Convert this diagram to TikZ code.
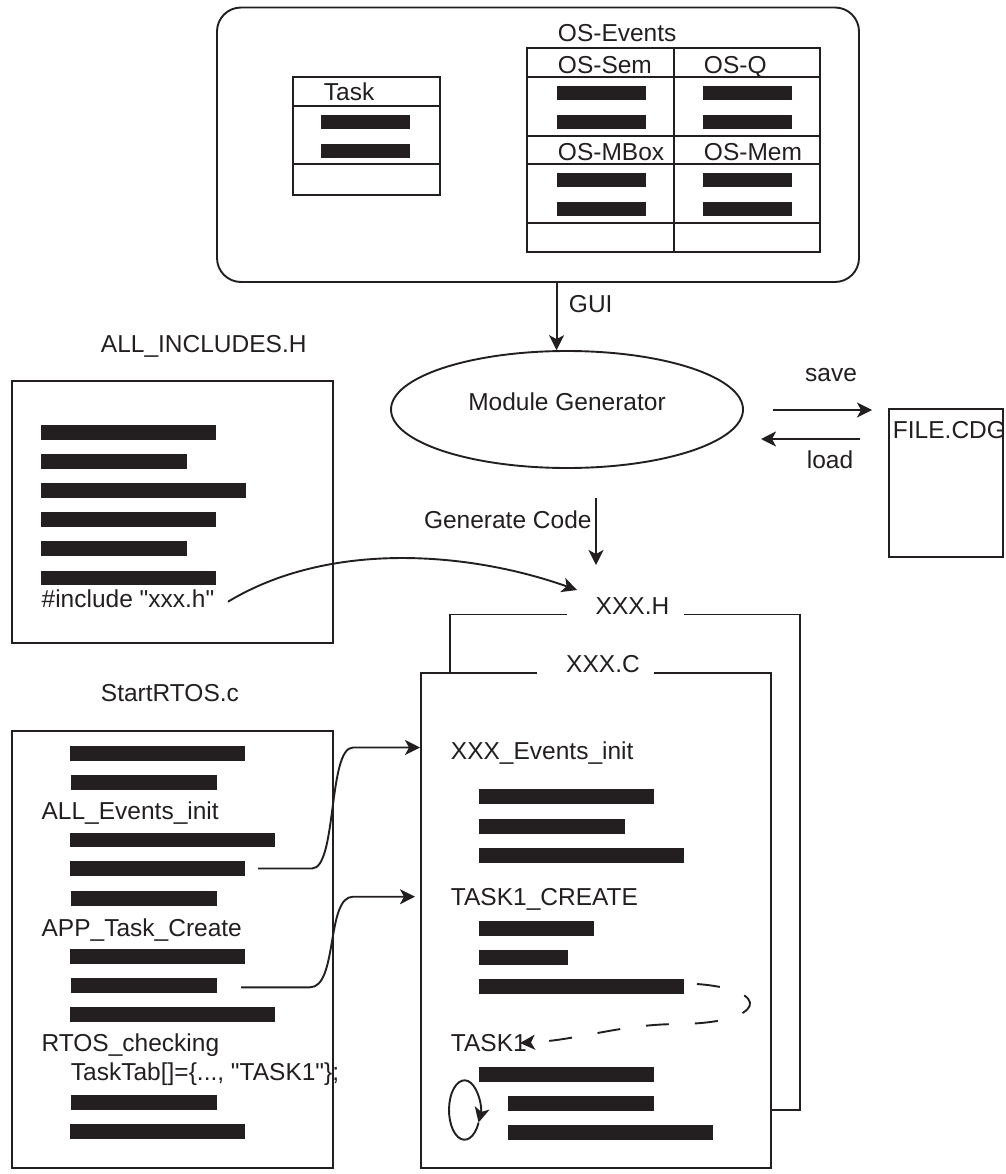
\documentclass[tikz,border=0pt]{standalone}
\usepackage{fontspec}
\setmainfont{Liberation Sans}[Ligatures=TeXOff]
\usetikzlibrary{shapes.geometric,arrows.meta}
\definecolor{ink}{HTML}{231F20}

% filled bar standing in for a line of code: x0, x1, top y
\newcommand\redact[3]{\fill (#1,#3) rectangle (#2,#3+14.5);}

\begin{document}
\begin{tikzpicture}[x=1pt,y=-1pt,line width=1.9pt,color=ink,
  lbl/.style={anchor=base west,inner sep=0pt,font=\fontsize{24.5}{29}\selectfont},
  arr/.style={-{Stealth[length=15pt,width=15pt,inset=4pt]}},
  boxnode/.style={draw,anchor=north west,inner sep=0pt,outer sep=0pt}]
\useasboundingbox (0,0) rectangle (1005,1174);

% ---------- configuration window ----------
\node[boxnode,rounded corners=24pt,minimum width=642pt,minimum height=274.5pt] (top) at (217,7.5) {};

% task table
\draw (293,77) rectangle (440,195);
\draw (293,106) -- (440,106) (293,164) -- (440,164);
\node[lbl] (tasklbl) at (323,101) {Task};
\redact{321}{410}{115}
\redact{321}{410}{144}

% event tables
\node[lbl] (evlbl) at (557,42) {OS-Events};
\draw (527,48) rectangle (820,252);
\draw (527,77) -- (820,77) (527,136) -- (820,136) (527,164) -- (820,164) (527,223) -- (820,223);
\draw (674,48) -- (674,252);
\node[lbl] (semlbl) at (557,73.5) {OS-Sem};
\node[lbl] (qlbl) at (703,73.5) {OS-Q};
\node[lbl] (mboxlbl) at (557,161) {OS-MBox};
\node[lbl] (memlbl) at (703,161) {OS-Mem};
\foreach \yy in {86,115,172.7,201.7}{
  \redact{557}{646}{\yy}
  \redact{703}{792}{\yy}
}

% ---------- generator ----------
\node[draw,ellipse,minimum width=352pt,minimum height=117pt,inner sep=0pt] (gen) at (567,409.5) {};
\node[lbl,anchor=base] (gentxt) at (567,410.5) {Module Generator};
\draw[arr] (gen.100 |- top.south) -- (gen.100);
\node[lbl] (guilbl) at (568,312) {GUI};

% save / load with the project file
\node[boxnode,minimum width=114pt,minimum height=148pt] (file) at (889,409) {};
\node[lbl] (filelbl) at (892,438) {FILE.CDG};
\coordinate (sv0) at (773,410);
\coordinate (sv1) at (872,410);
\coordinate (ld0) at (860,439);
\coordinate (ld1) at (761,439);
\draw[arr] (sv0) -- (sv1);
\draw[arr] (ld0) -- (ld1);
\node[lbl,anchor=base] (savelbl) at (831,381.7) {save};
\node[lbl,anchor=base] (loadlbl) at (830,468.3) {load};

% generate code
\coordinate (gc0) at (596,498);
\coordinate (gc1) at (596,565);
\draw[arr] (gc0) -- (gc1);
\node[lbl,anchor=base east] (gclbl) at (592.5,528.3) {Generate Code};

% ---------- ALL_INCLUDES.H ----------
\node[lbl] (inclbl) at (100,352) {ALL\_INCLUDES.H};
\node[boxnode,minimum width=321.3pt,minimum height=262pt] (inc) at (11.7,381) {};
\redact{41}{216}{425}
\redact{41}{187}{454}
\redact{41}{246}{483.3}
\redact{41}{216}{512.3}
\redact{41}{187}{541.3}
\redact{41}{216}{570.7}
\node[lbl] (incline) at (40.7,607) {\#include "xxx.h"};
\coordinate (incA) at (228,601.7);
\coordinate (incB) at (577,590);
\draw[arr] (incA) .. controls (330,540) and (470,552) .. (incB);

% ---------- XXX.H / XXX.C ----------
\draw (567,614.5) -- (450,614.5) -- (450,1110) -- (800,1110) -- (800,614.5) -- (684,614.5);
\node[lbl,anchor=base] (xhlbl) at (632.5,614.5) {XXX.H};
\fill[white] (420.7,672.7) rectangle (770.7,1168);
\draw (536.7,672.7) -- (420.7,672.7) -- (420.7,1168) -- (770.7,1168) -- (770.7,672.7) -- (654,672.7);
\node[lbl,anchor=base] (xclbl) at (603,672.7) {XXX.C};

\node[lbl] (evinit) at (450,759.3) {XXX\_Events\_init};
\redact{479}{654}{789}
\redact{479}{625}{819}
\redact{479}{684}{848}
\node[lbl] (tcreate) at (450,905) {TASK1\_CREATE};
\redact{479}{594}{921}
\redact{479}{568}{950}
\redact{479}{684}{979}
\node[lbl] (task1) at (450,1051.7) {TASK1};
\redact{479}{654}{1067}
\redact{508}{654}{1096}
\redact{508}{713}{1125}

% jump from the create call back to the task body
\coordinate (jmp0) at (697,984);
\coordinate (jmp1) at (520,1043);
\draw[arr,dash pattern=on 23pt off 26pt] (jmp0) .. controls (775,990) and (765,1023) .. (680,1024)
  .. controls (620,1024) and (580,1040) .. (jmp1);

% task loop
\draw[arr] (478.55,1122.55) arc[start angle=25,end angle=385,x radius=15.5,y radius=29.7];

% ---------- StartRTOS.c ----------
\node[lbl] (startlbl) at (100,701.7) {StartRTOS.c};
\node[boxnode,minimum width=321.3pt,minimum height=437.3pt] (start) at (11.7,730.7) {};
\redact{70}{245}{746}
\redact{71}{217}{775}
\node[lbl] (allev) at (40.7,819.3) {ALL\_Events\_init};
\redact{70}{275}{832.7}
\redact{70}{245}{861.3}
\redact{71}{217}{891}
\node[lbl] (apptc) at (40.7,936) {APP\_Task\_Create};
\redact{70}{245}{949.3}
\redact{71}{217}{978.3}
\redact{70}{275}{1007}
\node[lbl] (rtchk) at (40.7,1051.7) {RTOS\_checking};
\node[lbl] (tasktab) at (70,1080) {TaskTab[]=\{..., "TASK1"\};};
\redact{71}{217}{1095}
\redact{70}{245}{1124}

% calls into the generated module
\coordinate (c1a) at (258,868.5);
\coordinate (c1b) at (420,747.5);
\coordinate (c2a) at (241,987.3);
\coordinate (c2b) at (415,896.7);
\draw[arr] (c1a) -- (312,868.5) .. controls (337,868.5) and (328,747.5) .. (353,747.5) -- (c1b);
\draw[arr] (c2a) -- (310,987.3) .. controls (338,987.3) and (326,896.7) .. (353,896.7) -- (c2b);
\end{tikzpicture}
\end{document}
